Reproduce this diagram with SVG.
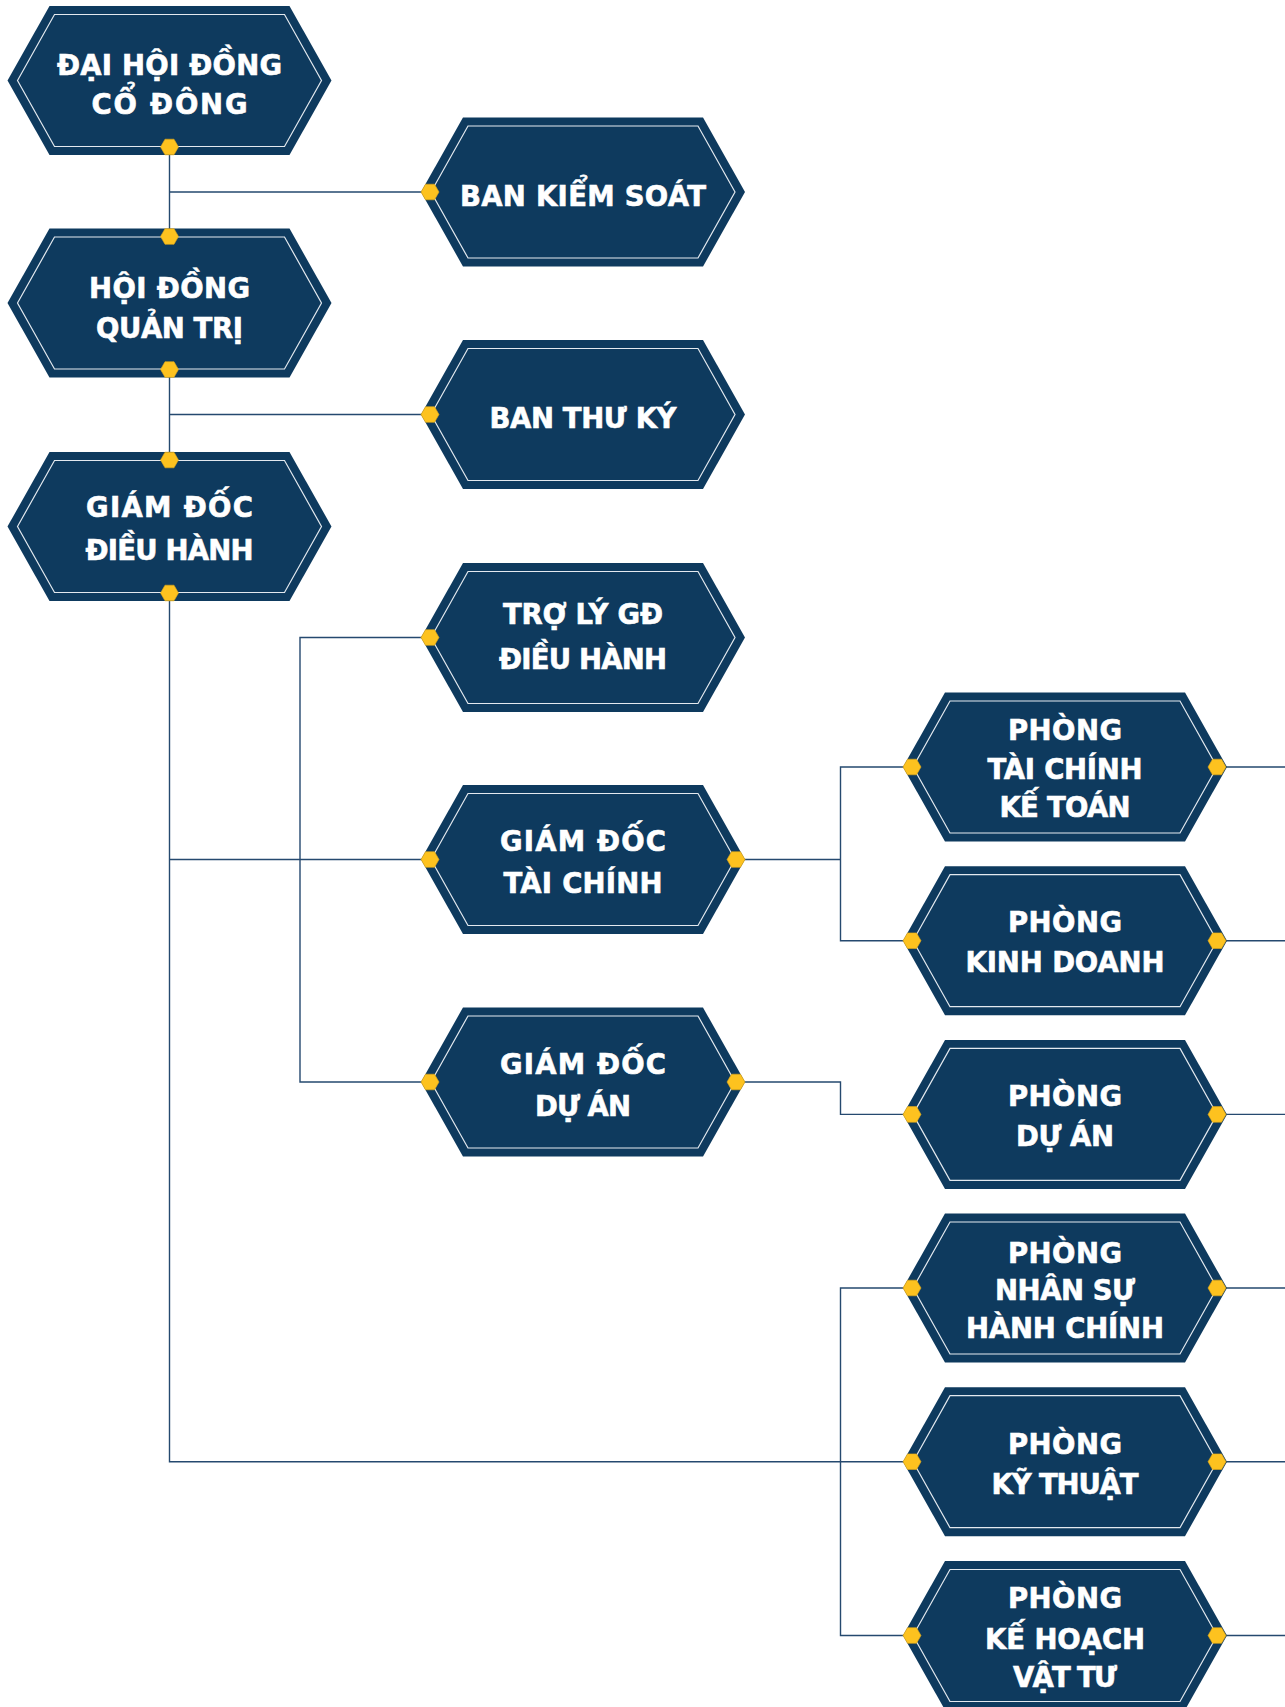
<svg xmlns="http://www.w3.org/2000/svg" xmlns:xlink="http://www.w3.org/1999/xlink" width="1285" height="1707" viewBox="0 0 1285 1707">
<style>
.bg{fill:#ffffff}
.outer{fill:#0e3a5e}
.inner{fill:none;stroke:#e3e9ef;stroke-width:1.2}
.yl{fill:#fdc21f;stroke:#e2a815;stroke-width:0.6}
.t{font-family:"DejaVu Sans","Liberation Sans",sans-serif;font-weight:bold;font-size:27.5px;fill:#ffffff;stroke:#ffffff;stroke-width:0.6;text-anchor:middle}
.cn{fill:none;stroke:#25496f;stroke-width:1.4}
</style>
<defs>
<polygon id="outer" class="outer" points="0,0 42,-74.5 282,-74.5 324,0 282,74.5 42,74.5"/>
<polygon id="inner" class="inner" points="10,0 47,-66 277,-66 314,0 277,66 47,66"/>
<polygon id="yl" class="yl" points="-9,0 -4.5,-7.8 4.5,-7.8 9,0 4.5,7.8 -4.5,7.8"/>
</defs>
<rect class="bg" x="0" y="0" width="1285" height="1707"/>
<g id="connectors">
<path class="cn" d="M169.5,147 V236.5 M169.5,192 H430"/>
<path class="cn" d="M169.5,370 V459 M169.5,414.5 H430"/>
<path class="cn" d="M169.5,592 V1461.7 H912 M169.5,859.5 H430"/>
<path class="cn" d="M430,637.5 H300 V1082 H430"/>
<path class="cn" d="M912,767 H840.5 V940.7 H912 M736,859.5 H840.5"/>
<path class="cn" d="M736,1082 H840.5 V1114.4 H912"/>
<path class="cn" d="M912,1288 H840.5 V1635.5 H912"/>
<path class="cn" d="M1217,767 H1285 M1217,940.7 H1285 M1217,1114.4 H1285 M1217,1288 H1285 M1217,1461.7 H1285 M1217,1635.5 H1285"/>
</g>
<g id="node-dai-hoi-dong-co-dong" transform="translate(7.5,80.5)">
<use href="#outer"/><use href="#inner"/>
<use href="#yl" x="162" y="66.5"/>
<text class="t" x="162" y="-6" textLength="225" lengthAdjust="spacing">ĐẠI HỘI ĐỒNG</text>
<text class="t" x="162" y="33" textLength="156" lengthAdjust="spacing">CỔ ĐÔNG</text>
</g>
<g id="node-hoi-dong-quan-tri" transform="translate(7.5,303)">
<use href="#outer"/><use href="#inner"/>
<use href="#yl" x="162" y="-66.5"/><use href="#yl" x="162" y="66.5"/>
<text class="t" x="162" y="-5.5" textLength="161" lengthAdjust="spacing">HỘI ĐỒNG</text>
<text class="t" x="162" y="34.5" textLength="147" lengthAdjust="spacing">QUẢN TRỊ</text>
</g>
<g id="node-giam-doc-dieu-hanh" transform="translate(7.5,526.5)">
<use href="#outer"/><use href="#inner"/>
<use href="#yl" x="162" y="-66.5"/><use href="#yl" x="162" y="66.5"/>
<text class="t" x="162" y="-10" textLength="167" lengthAdjust="spacing">GIÁM ĐỐC</text>
<text class="t" x="162" y="33" textLength="168" lengthAdjust="spacing">ĐIỀU HÀNH</text>
</g>
<g id="node-ban-kiem-soat" transform="translate(421,192)">
<use href="#outer"/><use href="#inner"/>
<use href="#yl" x="9" y="0"/>
<text class="t" x="162" y="13.5" textLength="246" lengthAdjust="spacing">BAN KIỂM SOÁT</text>
</g>
<g id="node-ban-thu-ky" transform="translate(421,414.5)">
<use href="#outer"/><use href="#inner"/>
<use href="#yl" x="9" y="0"/>
<text class="t" x="162" y="13.5" textLength="187" lengthAdjust="spacing">BAN THƯ KÝ</text>
</g>
<g id="node-tro-ly-gd" transform="translate(421,637.5)">
<use href="#outer"/><use href="#inner"/>
<use href="#yl" x="9" y="0"/>
<text class="t" x="162" y="-14" textLength="160" lengthAdjust="spacing">TRỢ LÝ GĐ</text>
<text class="t" x="162" y="31" textLength="168" lengthAdjust="spacing">ĐIỀU HÀNH</text>
</g>
<g id="node-giam-doc-tai-chinh" transform="translate(421,859.5)">
<use href="#outer"/><use href="#inner"/>
<use href="#yl" x="9" y="0"/><use href="#yl" x="315" y="0"/>
<text class="t" x="162" y="-9" textLength="166" lengthAdjust="spacing">GIÁM ĐỐC</text>
<text class="t" x="162" y="33" textLength="159" lengthAdjust="spacing">TÀI CHÍNH</text>
</g>
<g id="node-giam-doc-du-an" transform="translate(421,1082)">
<use href="#outer"/><use href="#inner"/>
<use href="#yl" x="9" y="0"/><use href="#yl" x="315" y="0"/>
<text class="t" x="162" y="-8" textLength="166" lengthAdjust="spacing">GIÁM ĐỐC</text>
<text class="t" x="162" y="33.5" textLength="96" lengthAdjust="spacing">DỰ ÁN</text>
</g>
<g id="node-phong-tai-chinh-ke-toan" transform="translate(903,767)">
<use href="#outer"/><use href="#inner"/>
<use href="#yl" x="9" y="0"/><use href="#yl" x="314" y="0"/>
<text class="t" x="162" y="-27.5" textLength="114" lengthAdjust="spacing">PHÒNG</text>
<text class="t" x="162" y="11.5" textLength="155" lengthAdjust="spacing">TÀI CHÍNH</text>
<text class="t" x="162" y="49.5" textLength="131" lengthAdjust="spacing">KẾ TOÁN</text>
</g>
<g id="node-phong-kinh-doanh" transform="translate(903,940.7)">
<use href="#outer"/><use href="#inner"/>
<use href="#yl" x="9" y="0"/><use href="#yl" x="314" y="0"/>
<text class="t" x="162" y="-8.5" textLength="114" lengthAdjust="spacing">PHÒNG</text>
<text class="t" x="162" y="31.5" textLength="199" lengthAdjust="spacing">KINH DOANH</text>
</g>
<g id="node-phong-du-an" transform="translate(903,1114.4)">
<use href="#outer"/><use href="#inner"/>
<use href="#yl" x="9" y="0"/><use href="#yl" x="314" y="0"/>
<text class="t" x="162" y="-8.5" textLength="114" lengthAdjust="spacing">PHÒNG</text>
<text class="t" x="162" y="31.5" textLength="98" lengthAdjust="spacing">DỰ ÁN</text>
</g>
<g id="node-phong-nhan-su-hanh-chinh" transform="translate(903,1288)">
<use href="#outer"/><use href="#inner"/>
<use href="#yl" x="9" y="0"/><use href="#yl" x="314" y="0"/>
<text class="t" x="162" y="-25.5" textLength="114" lengthAdjust="spacing">PHÒNG</text>
<text class="t" x="162" y="11.5" textLength="140" lengthAdjust="spacing">NHÂN SỰ</text>
<text class="t" x="162" y="49.5" textLength="198" lengthAdjust="spacing">HÀNH CHÍNH</text>
</g>
<g id="node-phong-ky-thuat" transform="translate(903,1461.7)">
<use href="#outer"/><use href="#inner"/>
<use href="#yl" x="9" y="0"/><use href="#yl" x="314" y="0"/>
<text class="t" x="162" y="-8" textLength="114" lengthAdjust="spacing">PHÒNG</text>
<text class="t" x="162" y="32" textLength="147" lengthAdjust="spacing">KỸ THUẬT</text>
</g>
<g id="node-phong-ke-hoach-vat-tu" transform="translate(903,1635.5)">
<use href="#outer"/><use href="#inner"/>
<use href="#yl" x="9" y="0"/><use href="#yl" x="314" y="0"/>
<text class="t" x="162" y="-28" textLength="114" lengthAdjust="spacing">PHÒNG</text>
<text class="t" x="162" y="13" textLength="160" lengthAdjust="spacing">KẾ HOẠCH</text>
<text class="t" x="162" y="51" textLength="104" lengthAdjust="spacing">VẬT TƯ</text>
</g>
</svg>
